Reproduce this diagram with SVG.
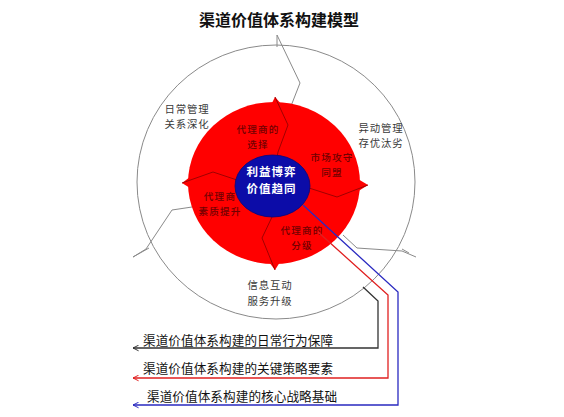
<svg xmlns="http://www.w3.org/2000/svg" width="564" height="417" viewBox="0 0 564 417">
  <defs>
    <style>
      .ring { fill: none; stroke: #8a8a8a; stroke-width: 1; }
      .div { fill: none; stroke: #a00000; stroke-width: 1; }
      .seg { font-family: "Noto Sans CJK SC", "Noto Sans", sans-serif; font-size: 9.6px; letter-spacing: 1.2px; font-weight: 500; fill: #700000; text-anchor: middle; }
      .out { font-family: "Noto Sans CJK SC", "Noto Sans", sans-serif; font-size: 10.4px; letter-spacing: 0.9px; fill: #3a3a3a; text-anchor: middle; }
      .core { font-family: "Noto Sans CJK SC", "Noto Sans", sans-serif; font-size: 11.5px; letter-spacing: 1px; font-weight: bold; fill: #ffffff; text-anchor: middle; }
      .cap { font-family: "Noto Sans CJK SC", "Noto Sans", sans-serif; font-size: 12.6px; fill: #111; }
      .title { font-family: "Noto Sans CJK SC", "Noto Sans", sans-serif; font-size: 16px; font-weight: bold; fill: #111; text-anchor: middle; }
      .conn { fill: none; stroke-width: 1.3; }
    </style>
    <marker id="ahK" viewBox="0 0 10 10" refX="9" refY="5" markerWidth="7" markerHeight="7" orient="auto" markerUnits="userSpaceOnUse">
      <path d="M1,1 L9,5 L1,9" fill="none" stroke="#333" stroke-width="1.4"/>
    </marker>
    <marker id="ahR" viewBox="0 0 10 10" refX="9" refY="5" markerWidth="7" markerHeight="7" orient="auto" markerUnits="userSpaceOnUse">
      <path d="M1,1 L9,5 L1,9" fill="none" stroke="#e02020" stroke-width="1.4"/>
    </marker>
    <marker id="ahB" viewBox="0 0 10 10" refX="9" refY="5" markerWidth="7" markerHeight="7" orient="auto" markerUnits="userSpaceOnUse">
      <path d="M1,1 L9,5 L1,9" fill="none" stroke="#2a2ac0" stroke-width="1.4"/>
    </marker>
  </defs>

  <rect x="0" y="0" width="564" height="417" fill="#ffffff"/>

  <g id="title">
    <text class="title" x="279" y="26">渠道价值体系构建模型</text>
  </g>

  <g id="outer-ring">
    <ellipse class="ring" cx="276" cy="182" rx="139" ry="137"/>
    <polyline class="ring" points="277,47 277,35 300,83 291,106"/>
    <polyline class="ring" points="343,235 357,248 402,251 416,257"/>
    <polyline class="ring" points="402,249 409,253"/>
    <polyline class="ring" points="192,207 172,210 146,249 133,257 149,248"/>
  </g>

  <g id="inner-ring">
    <ellipse cx="274" cy="183" rx="86" ry="81" fill="#ff0000"/>
    <polygon points="271,105 275,97 282,105" fill="#ff0000"/>
    <polygon points="358,179 368,185 357,192" fill="#ff0000"/>
    <polygon points="190,177 182,183 190,188" fill="#ff0000"/>
    <polygon points="269,262 275,270 280,262" fill="#ff0000"/>
    <polyline class="div" points="275,97 288,125 278,152 277,157"/>
    <polyline class="div" points="309,188 337,197 368,185"/>
    <polyline class="div" points="182,183 213,172 237,180"/>
    <polyline class="div" points="272,217 262,238 275,270"/>
  </g>

  <g id="seg-select">
    <text class="seg" x="258" y="133">代理商的<tspan x="258" dy="14.5">选择</tspan></text>
  </g>
  <g id="seg-alliance">
    <text class="seg" x="332" y="161">市场攻守<tspan x="332" dy="14.5">同盟</tspan></text>
  </g>
  <g id="seg-quality">
    <text class="seg" x="220" y="200">代理商<tspan x="220" dy="14.5">素质提升</tspan></text>
  </g>
  <g id="seg-grade">
    <text class="seg" x="302" y="234">代理商的<tspan x="302" dy="14.5">分级</tspan></text>
  </g>

  <g id="out-daily">
    <text class="out" x="187" y="113">日常管理<tspan x="187" dy="15.4">关系深化</tspan></text>
  </g>
  <g id="out-change">
    <text class="out" x="381" y="132">异动管理<tspan x="381" dy="15.4">存优汰劣</tspan></text>
  </g>
  <g id="out-info">
    <text class="out" x="270" y="289">信息互动<tspan x="270" dy="16">服务升级</tspan></text>
  </g>

  <g id="connectors">
    <polyline class="conn" stroke="#333" points="363,287 378,301 378,348 133,348" marker-end="url(#ahK)"/>
    <polyline class="conn" stroke="#e02020" points="318,232 388,295 388,378 133,378" marker-end="url(#ahR)"/>
    <polyline class="conn" stroke="#2a2ac0" points="303,205 398,292 398,405 133,405" marker-end="url(#ahB)"/>
  </g>

  <g id="core">
    <ellipse cx="272.5" cy="186" rx="37.5" ry="31" fill="#0c0ca8" stroke="#08087a" stroke-width="0.8"/>
    <text class="core" x="271.5" y="176">利益博弈<tspan x="271.5" dy="16.8">价值趋同</tspan></text>
  </g>

  <g id="captions">
    <text class="cap" x="143" y="345" textLength="190">渠道价值体系构建的日常行为保障</text>
    <text class="cap" x="143" y="373" textLength="190">渠道价值体系构建的关键策略要素</text>
    <text class="cap" x="147" y="401" textLength="190">渠道价值体系构建的核心战略基础</text>
  </g>
</svg>
